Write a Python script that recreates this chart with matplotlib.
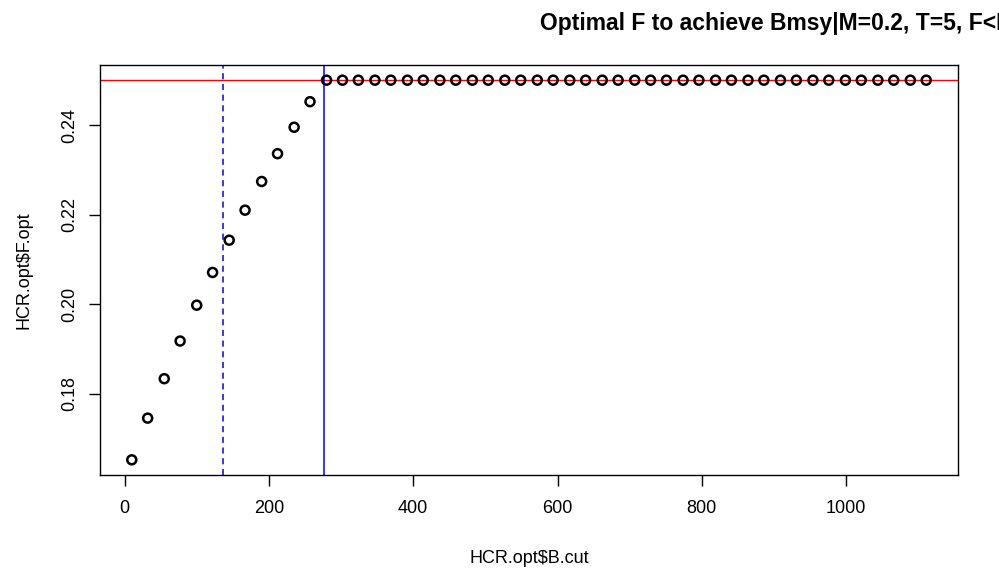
import numpy as np
import matplotlib.pyplot as plt

plt.rcParams['font.family'] = ['Liberation Sans', 'DejaVu Sans']

# B.cut degerleri ve optimal F
b_cut = [10, 32, 55, 77, 100, 122, 145, 167, 190, 212, 235, 257, 280, 302,
         324, 347, 369, 392, 414, 437, 459, 482, 504, 527, 549, 572, 594,
         617, 639, 662, 684, 707, 729, 751, 774, 796, 819, 841, 864, 886,
         909, 931, 954, 976, 999, 1021, 1044, 1066, 1089, 1111]
f_opt = [0.1653, 0.1746, 0.1834, 0.1918, 0.1998, 0.2071, 0.2143, 0.2210,
         0.2274, 0.2336, 0.2395, 0.2452] + [0.25] * 38

f_max = 0.25      # yatay kirmizi cizgi
b_msy = 277.0     # duz mavi cizgi
b_half = 137.0    # kesikli mavi cizgi

title = "Optimal F to achieve Bmsy|M=0.2, T=5, F<Fmsy"

fig = plt.figure(figsize=(9.99, 5.69), dpi=100)
ax = fig.add_axes([100 / 999, 1 - 475 / 569, 858 / 999, 410 / 569])

ax.scatter(b_cut, f_opt, s=42, facecolors='none', edgecolors='black',
           linewidths=1.8, zorder=3)
ax.axhline(f_max, color='red', lw=1)
ax.axvline(b_msy, color='blue', lw=1.1)
ax.axvline(b_half, color='blue', lw=1.1, ls=(0, (4, 3)))

# R tarzi eksen araligi (%4 genisletme)
xr = max(b_cut) - min(b_cut)
yr = max(f_opt) - min(f_opt)
ax.set_xlim(min(b_cut) - 0.04 * xr, max(b_cut) + 0.04 * xr)
ax.set_ylim(min(f_opt) - 0.04 * yr, max(f_opt) + 0.04 * yr)

ax.set_xticks([0, 200, 400, 600, 800, 1000])
ax.set_yticks([0.18, 0.20, 0.22, 0.24])
ax.set_yticklabels(['0.18', '0.20', '0.22', '0.24'], rotation=90, va='center')
ax.tick_params(labelsize=13, length=8, width=1)
ax.tick_params(axis='x', pad=10)
ax.tick_params(axis='y', pad=8)

for s in ax.spines.values():
    s.set_linewidth(1)

ax.set_xlabel("HCR.opt$B.cut", fontsize=13, labelpad=24)
ax.set_ylabel("HCR.opt$F.opt", fontsize=13, labelpad=20)
fig.text(540 / 999, 1 - 30 / 569, title, fontsize=16.5, fontweight='bold',
         ha='left', va='baseline')

fig.savefig('out.png', dpi=100)
